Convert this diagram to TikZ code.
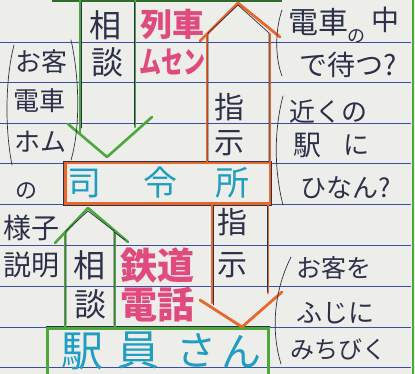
\documentclass[tikz,border=0pt]{standalone}
\usepackage{fontspec}
\usepackage{graphicx}
\newfontfamily\jp{Noto Sans CJK JP}
\definecolor{paper}{HTML}{EDEEEA}
\definecolor{rulec}{HTML}{3B4FA0}
\definecolor{grn}{HTML}{4DA83C}
\definecolor{dgrn}{HTML}{2F6B2A}
\definecolor{org}{HTML}{E8672C}
\definecolor{tealc}{HTML}{1F9DC2}
\definecolor{pnk}{HTML}{E04A7E}
\definecolor{pen}{HTML}{2C3048}
\newcommand{\fs}[1]{\jp\fontsize{#1}{#1}\selectfont}
\tikzset{
  ruleline/.style={rulec, line width=0.7pt},
  garrow/.style={grn, line width=2.6pt, line cap=round, line join=round},
  oarrow/.style={org, line width=2.8pt, line cap=round, line join=round},
  penline/.style={pen, line width=0.7pt, line cap=round},
  pentxt/.style={text=pen, inner sep=0pt},
  pinktxt/.style={text=pnk, inner sep=0pt},
  tealtxt/.style={text=tealc, inner sep=0pt},
}
\begin{document}
\begin{tikzpicture}[x=1pt,y=-1pt]
\useasboundingbox (0,0) rectangle (415,374);
\fill[paper] (0,0) rectangle (415,374);
% ruled lines
\foreach \yy in {42,82,123,163,204,245,286,327,367}
  \draw[ruleline] (0,\yy) -- (411,\yy);
% margin lines
\draw[grn, line width=2.5pt] (413,0) -- (413,374);
\draw[dgrn, line width=2.5pt] (52,1) -- (282,1);

% boxes
\node[draw=org, line width=3pt, minimum width=205pt, minimum height=41pt, inner sep=0pt] (shirei) at (167.5,183.5) {};
\draw[pen, line width=0.7pt] (shirei.north west) rectangle (shirei.south east);
\node[draw=grn, line width=3pt, minimum width=221pt, minimum height=60pt, inner sep=0pt] (ekiin) at (157.5,358) {};
\draw[pen, line width=0.8pt] (ekiin.north west) -- (ekiin.north east);

% top green arrow (down)
\coordinate (g1tl) at (80,0);   \coordinate (g1tr) at (135,0);
\coordinate (g1bl) at (80,133); \coordinate (g1br) at (135,127);
\coordinate (g1wl) at (68,124); \coordinate (g1wr) at (152,117);
\coordinate (g1p) at (107,157);
\draw[garrow] (g1tl) -- (g1bl);
\draw[garrow] (g1tr) -- (g1br);
\draw[garrow] (g1wl) -- (g1p) -- (g1wr);
\draw[penline] (81,2) -- (81,128);
\draw[penline] (134,2) -- (134,125);

% orange up arrow
\coordinate (o1bl) at (207,163); \coordinate (o1br) at (270,163);
\coordinate (o1tl) at (207,34);  \coordinate (o1tr) at (270,34);
\coordinate (o1wl) at (200,41);  \coordinate (o1wr) at (280,37);
\coordinate (o1p) at (238,3);
\draw[oarrow] (o1bl) -- (o1tl);
\draw[oarrow] (o1br) -- (o1tr);
\draw[oarrow] (o1wl) -- (o1p) -- (o1wr);
\draw[penline] (208,161) -- (208,33) -- (238,5) -- (269,33) -- (269,161);

% orange down arrow
\coordinate (o2tl) at (212,204); \coordinate (o2tr) at (268,204);
\coordinate (o2bl) at (212,303); \coordinate (o2br) at (268,293);
\coordinate (o2wl) at (200,300); \coordinate (o2wr) at (282,292);
\coordinate (o2p) at (242,327);
\draw[oarrow] (o2tl) -- (o2bl);
\draw[oarrow] (o2tr) -- (o2br);
\draw[oarrow] (o2wl) -- (o2p) -- (o2wr);
\draw[penline] (213,206) -- (213,305);
\draw[penline] (267,206) -- (267,292);

% lower green arrow (up)
\coordinate (g2bl) at (65,327); \coordinate (g2br) at (115,327);
\coordinate (g2tl) at (65,232); \coordinate (g2tr) at (115,232);
\coordinate (g2wl) at (55,243); \coordinate (g2wr) at (128,242);
\coordinate (g2p) at (88,208);
\draw[garrow] (g2bl) -- (g2tl);
\draw[garrow] (g2br) -- (g2tr);
\draw[garrow] (g2wl) -- (g2p) -- (g2wr);
\draw[penline] (66,325) -- (66,231) -- (88,211) -- (114,231) -- (114,325);
\draw[penline] (114,232) -- (125,240);

% brackets
\draw[penline] (14,45) .. controls (5,80) and (5,130) .. (12,165);
\draw[penline] (71,40) .. controls (80,80) and (80,130) .. (71,160);
\draw[penline] (282,10) .. controls (275,30) and (275,58) .. (282,76);
\draw[penline] (283,96) .. controls (274,130) and (274,170) .. (283,205);
\draw[penline] (291,257) .. controls (272,295) and (272,335) .. (281,364);

% texts in boxes
\node[tealtxt, font=\fs{34}] (t1) at (84,184) {司};
\node[tealtxt, font=\fs{34}] (t2) at (160,183) {令};
\node[tealtxt, font=\fs{34}] (t3) at (232,183) {所};
\node[tealtxt, font=\fs{42}] (e1) at (82,351) {駅};
\node[tealtxt, font=\fs{42}] (e2) at (138,350) {員};
\node[tealtxt, font=\fs{40}] (e3) at (196,350) {さ};
\node[tealtxt, font=\fs{40}] (e4) at (241,352) {ん};

% arrow labels
\node[pentxt, font=\fs{32}] (s1) at (105,25) {相};
\node[pentxt, font=\fs{32}] (s2) at (107,62) {談};
\node[pentxt, font=\fs{30}] (i1) at (229,107) {指};
\node[pentxt, font=\fs{30}] (i2) at (229,143) {示};
\node[pentxt, font=\fs{30}] (i3) at (232,222) {指};
\node[pentxt, font=\fs{30}] (i4) at (232,265) {示};
\node[pentxt, font=\fs{32}] (s3) at (89,265) {相};
\node[pentxt, font=\fs{32}] (s4) at (90,304) {談};

% pink labels
\node[pinktxt, font=\fs{32}\bfseries] (r1) at (172,24) {列車};
\node[pinktxt, font=\fs{22}\bfseries] (r2) at (172,62) {\scalebox{1}[1.4]{ムセン}};
\node[pinktxt, font=\fs{37}\bfseries] (r3) at (157,265) {鉄道};
\node[pinktxt, font=\fs{37}\bfseries] (r4) at (157,305) {電話};

% left notes
\node[pentxt, font=\fs{26}] (l1) at (41,62) {お客};
\node[pentxt, font=\fs{26}] (l2) at (39,101) {電車};
\node[pentxt, font=\fs{26}] (l3) at (40,142) {ホム};
\node[pentxt, font=\fs{22}] (l4) at (26,191) {の};
\node[pentxt, font=\fs{28}] (l5) at (32,228) {様子};
\node[pentxt, font=\fs{28}] (l6) at (31,265) {説明};

% right notes
\node[pentxt, font=\fs{30}] (a1) at (318,22) {電車};
\node[pentxt, font=\fs{18}] (a2) at (356,36) {の};
\node[pentxt, font=\fs{28}] (a3) at (385,20) {中};
\node[pentxt, font=\fs{28}] (a4) at (348,65) {で待つ?};
\node[pentxt, font=\fs{26}] (b1) at (328,112) {近くの};
\node[pentxt, font=\fs{28}] (b2) at (307,145) {駅};
\node[pentxt, font=\fs{26}] (b3) at (356,145) {に};
\node[pentxt, font=\fs{26}] (b4) at (346,188) {ひなん?};
\node[pentxt, font=\fs{25}] (c1) at (334,268) {お客を};
\node[pentxt, font=\fs{26}] (c2) at (335,313) {ふじに};
\node[pentxt, font=\fs{24}] (c3) at (338,349) {みちびく};
\end{tikzpicture}
\end{document}
